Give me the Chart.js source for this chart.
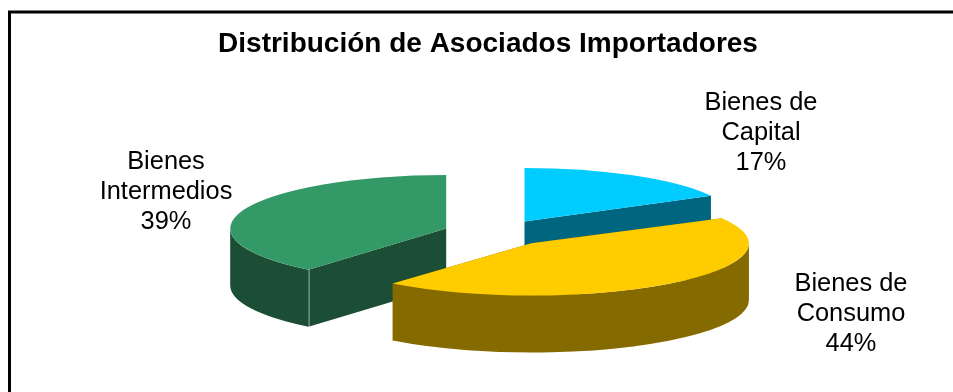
<!DOCTYPE html>
<html lang="es">
<head>
<meta charset="utf-8">
<title>Distribución de Asociados Importadores</title>
<script src="https://cdn.jsdelivr.net/npm/chart.js@4/dist/chart.umd.js"></script>
<style>
    html, body { margin: 0; padding: 0; background: #fff; overflow: hidden; }
    canvas { display: block; }
</style>
</head>
<body>
<canvas id="pie" width="953" height="392"></canvas>
<script>
'use strict';

var categories = [['Bienes de', 'Capital'], ['Bienes de', 'Consumo'], ['Bienes', 'Intermedios']];
var shares = [17, 44, 39];
var topColors = ['#00ccff', '#ffcc00', '#339966'];
var sideColors = ['#006680', '#856a00', '#1c4d35'];

var chartTitle = 'Distribución de Asociados Importadores';

// pie geometry on the page
var centerX = 497;
var centerY = 233;
var radius = 216;
var tilt = 0.248;      // vertical squash of the disc
var depth = 57;        // height of the walls
var explode = 54;      // how far each slice is pulled out
var drawOrder = [0, 2, 1]; // back to front

// slight foreshortening: back slice a bit narrower, front slice a bit larger and flatter
var widthScale = [0.985, 1.007, 1];
var heightScale = [1, 0.975, 1];

// centre of each label block
var labelX = [761, 851, 166];
var labelY = [103, 284, 162];
var labelLine = 30;

var drawWalls = function (ctx, x, y, rx, ry, arc, color) {
    var points = [arc.startAngle, arc.endAngle].map(function (angle) {
        return { x: x + Math.cos(angle) * rx, y: y + Math.sin(angle) * ry };
    });

    ctx.fillStyle = color;

    // the two cut faces
    points.forEach(function (p) {
        ctx.beginPath();
        ctx.moveTo(x, y);
        ctx.lineTo(p.x, p.y);
        ctx.lineTo(p.x, p.y + depth);
        ctx.lineTo(x, y + depth);
        ctx.closePath();
        ctx.fill();
    });

    // outer wall, only the part that faces the viewer
    var from = Math.max(arc.startAngle, 0);
    var to = Math.min(arc.endAngle, Math.PI);
    if (to > from) {
        ctx.beginPath();
        ctx.ellipse(x, y, rx, ry, 0, from, to);
        ctx.ellipse(x, y + depth, rx, ry, 0, to, from, true);
        ctx.closePath();
        ctx.fill();

        // thin light seam where the wall meets a cut face
        if (arc.startAngle > 0) {
            ctx.strokeStyle = 'rgba(255,255,255,0.35)';
            ctx.lineWidth = 1;
            ctx.beginPath();
            ctx.moveTo(Math.round(points[0].x) + 0.5, points[0].y);
            ctx.lineTo(Math.round(points[0].x) + 0.5, points[0].y + depth);
            ctx.stroke();
        }
    }
};

var frame = {
    id: 'frame',
    beforeDraw: function (chart) {
        var ctx = chart.ctx;
        ctx.save();
        ctx.strokeStyle = '#000';
        ctx.lineWidth = 3;
        ctx.strokeRect(9.5, 12, chart.width + 20, chart.height + 20);
        ctx.restore();
    }
};

var solidPie = {
    id: 'solidPie',
    beforeDatasetDraw: function (chart, args) {
        var ctx = chart.ctx;
        var arcs = args.meta.data;

        drawOrder.forEach(function (i) {
            var arc = arcs[i];
            var mid = (arc.startAngle + arc.endAngle) / 2;
            var x = centerX + Math.cos(mid) * explode;
            var y = centerY + Math.sin(mid) * explode * tilt;
            var sx = widthScale[i];
            var sy = tilt * heightScale[i];

            drawWalls(ctx, x, y, arc.outerRadius * sx, arc.outerRadius * sy, arc, sideColors[i]);

            ctx.save();
            ctx.translate(x, y);
            ctx.scale(sx, sy);
            ctx.translate(-arc.x, -arc.y);
            arc.draw(ctx);
            ctx.restore();
        });

        return false;
    }
};

var sliceLabels = {
    id: 'sliceLabels',
    afterDatasetsDraw: function (chart) {
        var ctx = chart.ctx;
        ctx.save();
        ctx.fillStyle = '#000';
        ctx.font = '25.4px "Liberation Sans"';
        ctx.textAlign = 'center';
        ctx.textBaseline = 'middle';
        categories.forEach(function (lines, i) {
            lines.concat(shares[i] + '%').forEach(function (text, row) {
                ctx.fillText(text, labelX[i], labelY[i] + row * labelLine);
            });
        });
        ctx.restore();
    }
};

new Chart(document.getElementById('pie'), {
    type: 'pie',
    data: {
        labels: categories,
        datasets: [{
            data: shares,
            backgroundColor: topColors,
            borderWidth: 0
        }]
    },
    plugins: [frame, solidPie, sliceLabels],
    options: {
        responsive: false,
        animation: false,
        radius: radius,
        layout: { padding: { left: 23 } },
        plugins: {
            legend: { display: false },
            tooltip: { enabled: false },
            title: {
                display: true,
                text: chartTitle,
                color: '#000',
                font: { family: '"Liberation Sans"', size: 28, weight: 'bold' },
                padding: { top: 27, bottom: 10 }
            }
        }
    }
});
</script>
</body>
</html>
